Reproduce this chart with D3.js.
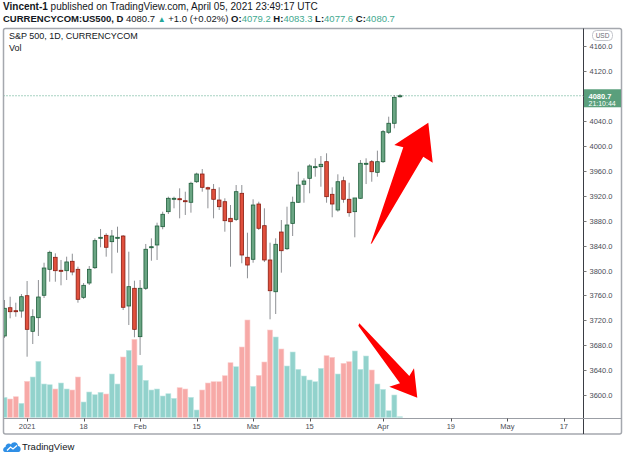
<!DOCTYPE html>
<html>
<head>
<meta charset="utf-8">
<script src="https://cdn.jsdelivr.net/npm/d3@7"></script>
<style>
  body { margin: 0; background: #fff; }
  svg { display: block; font-family: "Liberation Sans", Arial, sans-serif; }
</style>
</head>
<body>
<div id="chart"></div>
<script>
// Daily bars, 28 Dec 2020 .. 6 Apr 2021 (index 0 .. 70)
var opens = [3694.8, 3740.2, 3735.4, 3734.9, 3759.5, 3702.3, 3724.2, 3760.2, 3801.9, 3821.2,
  3800.3, 3799.7, 3814.8, 3801.9, 3756.9, 3779.9, 3804.5, 3851.7, 3856.5, 3846.3,
  3852.7, 3855.4, 3743.0, 3771.4, 3693.7, 3771.4, 3836.6, 3841.0, 3870.4, 3894.5,
  3915.3, 3915.3, 3912.1, 3909.6, 3942.6, 3955.0, 3933.0, 3930.4, 3913.2, 3910.5,
  3883.8, 3882.2, 3924.0, 3821.2, 3818.0, 3906.8, 3872.0, 3816.9, 3765.9, 3861.8,
  3835.0, 3875.7, 3909.6, 3938.5, 3948.1, 3966.3, 3966.8, 3974.8, 3922.4, 3897.2,
  3944.2, 3914.4, 3894.5, 3916.0, 3970.6, 3974.8, 3957.7, 3974.8, 4022.0, 4036.5, 4079.2];
var highs = [3752.6, 3757.9, 3748.3, 3762.2, 3783.1, 3737.7, 3784.7, 3812.5, 3831.8, 3827.6,
  3816.9, 3822.2, 3827.0, 3806.1, 3779.9, 3807.2, 3851.7, 3866.7, 3859.8, 3865.1,
  3870.4, 3857.0, 3830.2, 3783.6, 3784.7, 3842.6, 3851.7, 3876.8, 3894.5, 3918.6,
  3918.6, 3932.0, 3926.6, 3942.6, 3957.1, 3963.0, 3934.6, 3938.9, 3933.6, 3916.0,
  3905.2, 3937.3, 3937.3, 3860.7, 3914.4, 3910.5, 3899.9, 3844.7, 3851.7, 3881.1,
  3902.5, 3918.6, 3958.7, 3948.1, 3970.6, 3980.2, 3983.9, 3988.3, 3933.6, 3954.5,
  3950.7, 3941.0, 3916.5, 3977.5, 3980.2, 3977.5, 3992.5, 4025.7, 4047.1, 4081.9, 4083.3];
var lows = [3691.6, 3723.2, 3725.8, 3724.2, 3661.5, 3681.9, 3694.8, 3755.8, 3782.0, 3782.0,
  3776.2, 3784.7, 3792.3, 3748.3, 3754.2, 3776.7, 3802.4, 3837.3, 3822.2, 3795.5,
  3828.6, 3736.5, 3712.4, 3692.7, 3664.3, 3768.7, 3815.7, 3816.9, 3866.2, 3890.8,
  3899.9, 3883.8, 3889.2, 3892.9, 3940.6, 3926.6, 3899.9, 3883.8, 3897.2, 3862.3,
  3806.1, 3879.5, 3811.6, 3787.5, 3812.5, 3865.1, 3813.6, 3721.6, 3730.1, 3796.5,
  3832.9, 3855.4, 3908.4, 3908.9, 3924.0, 3950.7, 3934.6, 3908.9, 3885.5, 3894.5,
  3908.9, 3886.4, 3853.3, 3914.9, 3938.9, 3942.6, 3950.7, 3972.7, 4019.3, 4028.4, 4077.6];
var closes = [3739.3, 3733.8, 3734.5, 3757.9, 3705.5, 3725.8, 3757.4, 3804.0, 3829.2, 3799.7,
  3799.7, 3813.7, 3797.6, 3753.7, 3776.2, 3801.9, 3847.9, 3853.3, 3837.3, 3855.4,
  3853.3, 3740.9, 3774.0, 3705.5, 3771.4, 3834.1, 3838.2, 3871.5, 3890.3, 3916.0,
  3916.0, 3913.7, 3911.2, 3940.1, 3955.0, 3933.6, 3930.9, 3914.4, 3902.5, 3880.0,
  3878.4, 3926.6, 3824.9, 3808.8, 3905.2, 3867.8, 3816.9, 3767.5, 3842.1, 3831.8,
  3873.1, 3909.6, 3937.3, 3943.8, 3967.9, 3966.8, 3970.6, 3918.6, 3906.8, 3942.6,
  3914.4, 3892.9, 3916.5, 3972.2, 3972.2, 3958.7, 3974.8, 4023.0, 4036.5, 4078.2, 4080.7];
var volumes = [20.2, 18.5, 20.8, 14.2, 36.2, 40.5, 56.2, 33.5, 32.8, 28.5,
  34.5, 28.5, 27.5, 40.5, 15.5, 25.5, 22.8, 25.2, 23.5, 43.5,
  33.5, 60.5, 67.2, 78.2, 52.2, 37.2, 27.5, 28.5, 21.5, 23.8,
  19.2, 29.8, 28.5, 20.2, 7.5, 27.5, 34.5, 35.8, 35.8, 41.8,
  54.8, 50.8, 70.5, 97.5, 31.2, 42.2, 55.5, 87.5, 80.5, 68.5,
  51.5, 65.5, 48.2, 41.5, 37.5, 35.8, 49.2, 61.8, 60.2, 43.5,
  54.2, 55.8, 66.5, 48.2, 61.5, 47.5, 33.5, 28.2, 6.8, 22.5, 0.8];
// 1 = red volume bar, 0 = teal
var volDown = [0, 1, 1, 0, 1, 0, 0, 0, 0, 1, 0, 0, 1, 1, 0, 0, 0, 0, 1, 0,
  0, 1, 0, 1, 0, 0, 0, 0, 0, 0, 0, 1, 1, 0, 0, 1, 1, 1, 1, 1,
  1, 0, 1, 1, 0, 1, 1, 1, 0, 1, 0, 0, 0, 0, 0, 0, 0, 1, 1, 0,
  1, 1, 0, 0, 0, 1, 0, 0, 0, 0, 0];

var timeLabels = ["2021", "18", "Feb", "15", "Mar", "15", "Apr", "19", "May", "17"];
var timeIndex = [4, 14, 24, 34, 44, 54, 67, 79, 89, 99];
var priceTicks = [3600, 3640, 3680, 3720, 3760, 3800, 3840, 3880, 3920, 3960, 4000, 4040, 4080, 4120, 4160];

var W = 625, H = 457;
var padL = 3.5, axisX = 583.5, frameTop = 28.5, frameBottom = 434, axisY = 418.5, frameRight = 621.5;

var svg = d3.select("#chart").append("svg")
  .attr("width", W)
  .attr("height", H);

var x = d3.scaleLinear().domain([0, 99]).range([4.5, 563.85]);
var y = d3.scaleLinear().domain([3600, 4160]).range([395, 46.4]);
var yVol = d3.scaleLinear().domain([0, 100]).range([417.5, 317.5]);

// header
var h1 = svg.append("text").attr("x", 3).attr("y", 10).style("font-size", "10px").style("fill", "#131722");
h1.append("tspan").style("font-weight", "bold").text("Vincent-1");
h1.append("tspan").text(" published on TradingView.com, April 05, 2021 23:49:17 UTC");

var h2 = svg.append("text").attr("x", 3).attr("y", 22).style("font-size", "9.5px").style("fill", "#131722");
h2.append("tspan").style("font-weight", "bold").text("CURRENCYCOM:US500, D");
h2.append("tspan").text("  4080.7 ");
h2.append("tspan").style("fill", "#26a69a").style("font-size", "8px").text("▲");
h2.append("tspan").text(" +1.0 (+0.02%) ");
var ohlc = [["O:", "4079.2"], ["H:", "4083.3"], ["L:", "4077.6"], ["C:", "4080.7"]];
ohlc.forEach(function (d, i) {
  h2.append("tspan").style("font-weight", "bold").text((i ? " " : "") + d[0]);
  h2.append("tspan").style("fill", "#3fa98f").text(d[1]);
});

// frame
svg.append("rect")
  .attr("x", padL).attr("y", frameTop)
  .attr("width", frameRight - padL).attr("height", frameBottom - frameTop)
  .attr("rx", 2)
  .style("fill", "none").style("stroke", "#a5a8ae").style("stroke-width", 1.5);

svg.append("text").attr("x", 9).attr("y", 39).style("font-size", "9px").style("fill", "#131722")
  .text("S&P 500, 1D, CURRENCYCOM");
svg.append("text").attr("x", 9).attr("y", 51).style("font-size", "9px").style("fill", "#131722")
  .text("Vol");

svg.append("defs").append("clipPath").attr("id", "plot")
  .append("rect").attr("x", padL + 0.5).attr("y", frameTop).attr("width", axisX - padL - 0.5).attr("height", axisY - frameTop);

var plot = svg.append("g").attr("clip-path", "url(#plot)");

var bars = d3.range(opens.length);

// volume
plot.append("g").selectAll("rect")
  .data(bars)
  .enter().append("rect")
  .attr("x", function (i) { return x(i) - 2.5; })
  .attr("width", 5)
  .attr("y", function (i) { return yVol(volumes[i]); })
  .attr("height", function (i) { return yVol(0) - yVol(volumes[i]); })
  .style("fill", function (i) { return volDown[i] ? "#f7a9a7" : "#92d2cc"; })
  .style("stroke", function (i) { return volDown[i] ? "#fbd0cf" : "#c2e8e4"; })
  .style("stroke-width", 0.6);

// last price line
plot.append("line")
  .attr("x1", padL).attr("x2", axisX)
  .attr("y1", y(4080.7)).attr("y2", y(4080.7))
  .style("stroke", "#4fa585").style("stroke-width", 1).style("stroke-dasharray", "1,2");

// wicks
plot.append("g").selectAll("line")
  .data(bars)
  .enter().append("line")
  .attr("x1", function (i) { return x(i); })
  .attr("x2", function (i) { return x(i); })
  .attr("y1", function (i) { return y(highs[i]); })
  .attr("y2", function (i) { return y(lows[i]); })
  .style("stroke", "#8e9094")
  .style("stroke-width", 1);

// bodies
plot.append("g").selectAll("rect")
  .data(bars)
  .enter().append("rect")
  .attr("x", function (i) { return x(i) - 1.8; })
  .attr("width", 3.6)
  .attr("y", function (i) { return y(Math.max(opens[i], closes[i])); })
  .attr("height", function (i) { return Math.max(1, Math.abs(y(opens[i]) - y(closes[i]))); })
  .style("fill", function (i) { return closes[i] >= opens[i] ? "#6aa583" : "#e0503d"; })
  .style("stroke", function (i) { return closes[i] >= opens[i] ? "#1f5e3b" : "#8a1d12"; })
  .style("stroke-width", 0.8);

// price axis
svg.append("line").attr("x1", axisX).attr("x2", axisX).attr("y1", frameTop).attr("y2", frameBottom)
  .style("stroke", "#3a3d44").style("stroke-width", 1);
var pa = svg.append("g");
pa.selectAll("line").data(priceTicks).enter().append("line")
  .attr("x1", axisX).attr("x2", axisX + 3)
  .attr("y1", function (d) { return Math.round(y(d)) + 0.5; })
  .attr("y2", function (d) { return Math.round(y(d)) + 0.5; })
  .style("stroke", "#777");
pa.selectAll("text").data(priceTicks).enter().append("text")
  .attr("x", axisX + 6)
  .attr("y", function (d) { return y(d) + 3; })
  .style("font-size", "7.5px").style("fill", "#4a4d55")
  .text(function (d) { return d.toFixed(1); });

// USD badge
svg.append("rect").attr("x", 592.5).attr("y", 30.5).attr("width", 20).attr("height", 10).attr("rx", 4)
  .style("fill", "#fff").style("stroke", "#c4c6cc");
svg.append("text").attr("x", 602.5).attr("y", 38).attr("text-anchor", "middle")
  .style("font-size", "6.5px").style("fill", "#6a6d75").text("USD");

// last price label
svg.append("rect").attr("x", axisX + 0.5).attr("y", y(4080.7) - 6.5).attr("width", frameRight - axisX - 1).attr("height", 18)
  .style("fill", "#5a9f7c");
svg.append("text").attr("x", axisX + 5).attr("y", y(4080.7) + 2.8)
  .style("font-size", "7.5px").style("font-weight", "bold").style("fill", "#fff").text("4080.7");
svg.append("text").attr("x", axisX + 5).attr("y", y(4080.7) + 10.5)
  .style("font-size", "7px").style("fill", "#fff").text("21:10:44");

// time axis
svg.append("line").attr("x1", padL).attr("x2", frameRight).attr("y1", axisY).attr("y2", axisY)
  .style("stroke", "#9b9ea5").style("stroke-width", 1.2);
var ta = svg.append("g");
ta.selectAll("line").data(timeIndex).enter().append("line")
  .attr("x1", function (d) { return Math.round(x(d)) + 0.5; })
  .attr("x2", function (d) { return Math.round(x(d)) + 0.5; })
  .attr("y1", axisY).attr("y2", axisY + 3)
  .style("stroke", "#555");
ta.selectAll("text").data(timeIndex).enter().append("text")
  .attr("x", function (d) { return x(d); })
  .attr("y", 429)
  .attr("text-anchor", "middle")
  .style("font-size", "7.5px").style("fill", "#4a4d55")
  .text(function (d, i) { return timeLabels[i]; });

// drawn arrows, points as [bar index, price]
var arrowUp = [[64.81, 3842.6], [70.58, 3997.9], [68.99, 4001.6], [75.01, 4037.4], [75.79, 3973.2], [74.12, 3982.8], [65.04, 3843.7]];
var arrowDown = [[62.8, 3715.2], [71.65, 3630.5], [72.48, 3642.9], [73.06, 3595.7], [68.1, 3613.3], [70.0, 3618.8], [62.62, 3711.3]];
var arrowLine = d3.line().x(function (d) { return x(d[0]); }).y(function (d) { return y(d[1]); });
[arrowUp, arrowDown].forEach(function (pts) {
  svg.append("path").attr("d", arrowLine(pts) + "Z").style("fill", "#ff0000");
});

// TradingView logo
var logo = svg.append("g").attr("transform", "translate(3,440)");
logo.append("path")
  .attr("d", "M2,12 C-0.5,12 -0.5,7.5 2.5,7 C2.5,4 6,2.5 8,4.5 C9.5,1 15,1.5 15,6 C18.5,6 18.5,12 15.5,12 Z")
  .style("fill", "#2f8fe6");
logo.append("path").attr("d", "M4,10.5 L7.5,7 L10,9 L14,5.5")
  .style("fill", "none").style("stroke", "#fff").style("stroke-width", 1.3);
svg.append("text").attr("x", 22).attr("y", 450).style("font-size", "9.5px").style("fill", "#131722")
  .text("TradingView");
</script>
</body>
</html>
